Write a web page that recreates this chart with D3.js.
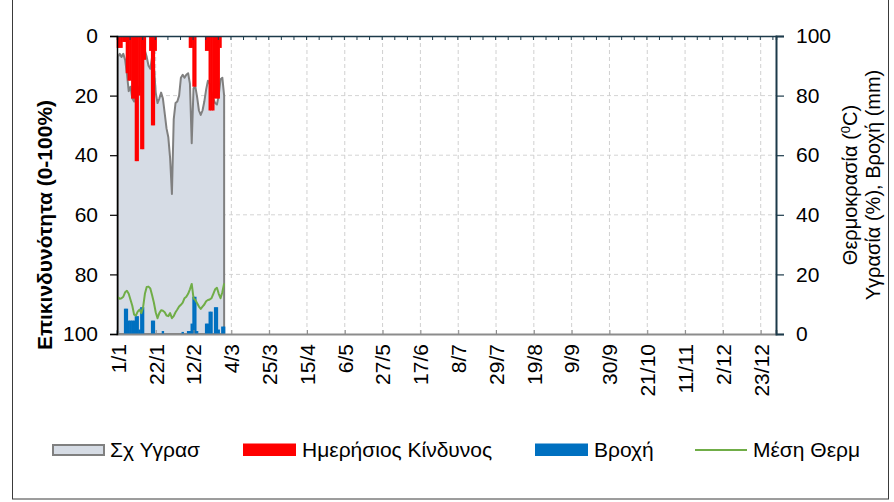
<!DOCTYPE html>
<html>
<head>
<meta charset="utf-8">
<script src="https://cdn.jsdelivr.net/npm/d3@7/dist/d3.min.js"></script>
<style>
  html, body { margin: 0; padding: 0; background: #fff; }
  svg { display: block; font-family: "Liberation Sans", Arial, sans-serif; }
</style>
</head>
<body>
<svg id="chart" width="894" height="502"></svg>
<script>
// ---------- DATA ----------
const tickLabels = ["1/1","22/1","12/2","4/3","25/3","15/4","6/5","27/5","17/6","8/7","29/7","19/8","9/9","30/9","21/10","11/11","2/12","23/12"];
const tickDays   = [0,21,42,63,84,105,126,147,168,189,210,231,252,273,294,315,336,357];
const yTicks = [0,20,40,60,80,100];

// Σχετική υγρασία (%), right axis
const humidity = [93,94,93,94,92,87.5,81.5,83,79,78, 84,83,81,85,92.5,95,93,90,89,93,
                  90,81,77.5,79,81,79,74,69,66,59, 47,72,77.5,78,80,86,87,86,87,87.5,
                  84,64,82.5,83,79.5,75,73.5,75,78,82, 85,84,81,79,77.5,77,80,85.5,86,80];
// Ημερήσιος Κίνδυνος (0-100%), left reversed axis
const risk = [4,4,4,2,2,12.5,15,15,21,21, 42,42,20,38,38,8,0,0,5,30,
              30,5,0,0,0,0,0,0,0,0, 0,0,0,0,0,0,0,0,0,0,
              4,4,17,17,0,0,0,0,0,5, 5,25,25,25,21,21,21,4,0,0];
// Βροχή (mm), right axis
const rain = [1,0,0,0,8.5,8.5,4.5,4.5,4.5,4.5, 6,6,1.5,9,9,0,0,0,0,4.5,
              4.5,0,0,0,0,1,0,0,0,0, 0,0,0,0,0,0,0.7,0,0,1,
              1,3.5,12.5,12.5,1,0,0,0,0,3.5, 3.5,7.5,7.5,0,9,9,1.5,0,2.5,2.5];
// Μέση Θερμοκρασία (°C), right axis
const temp = [12.4,11.8,12,12.5,14,14.5,13.5,11.5,9.5,6.5, 6.2,7.5,8.2,7,9,13.5,15.8,15.9,15.3,13,
              10.5,7.3,5.3,7,8,7.8,7.3,6.2,6,7, 5.3,6,7.3,8.2,9.2,9.8,10.5,12,12.5,13.5,
              15,16.8,12,11.4,10.3,9.2,8.4,9.2,9.9,11, 11.4,11.6,12,13.5,15,15.5,13.5,12,14,17];

const legendItems = ["Σχ Υγρασ","Ημερήσιος Κίνδυνος","Βροχή","Μέση Θερμ"];

// ---------- LAYOUT ----------
const L = 117, R = 776, T = 36, B = 334;
const svg = d3.select("#chart");

const x = d3.scaleLinear().domain([-0.5, 365.5]).range([L, R]);
const yL = d3.scaleLinear().domain([0, 100]).range([T, B]);   // reversed (0 top)
const yR = d3.scaleLinear().domain([0, 100]).range([B, T]);

const days = d3.range(humidity.length);
const bw = x(0.5) - x(-0.5);

// outer border
svg.append("rect").attr("x", 12.5).attr("y", -2).attr("width", 876).attr("height", 501)
  .attr("fill", "none").attr("stroke", "#3a3a3a").attr("stroke-width", 1);

// gridlines
const grid = svg.append("g");
grid.selectAll("line.h").data([20,40,60,80]).join("line")
  .attr("x1", L).attr("x2", R).attr("y1", d => yL(d)).attr("y2", d => yL(d))
  .attr("stroke", "#d4d4d4").attr("stroke-width", 1).attr("stroke-dasharray", "4,3");
grid.selectAll("line.v").data(tickDays.slice(1)).join("line")
  .attr("x1", d => x(d)).attr("x2", d => x(d)).attr("y1", T).attr("y2", B)
  .attr("stroke", "#d0d0d0").attr("stroke-width", 1).attr("stroke-dasharray", "4,3");

// humidity area
const area = d3.area().x(d => x(d)).y0(yR(0)).y1(d => yR(humidity[d]));
svg.append("path").datum(days).attr("d", area)
  .attr("fill", "#d6dce5").attr("stroke", "#808080").attr("stroke-width", 2)
  .attr("stroke-linejoin", "round");

// risk bars (from top)
svg.append("g").selectAll("rect").data(days.filter(d => risk[d] > 0)).join("rect")
  .attr("x", d => x(d - 0.5) - 0.3).attr("width", bw + 0.6)
  .attr("y", yL(0)).attr("height", d => yL(risk[d]) - yL(0))
  .attr("fill", "#ff0000");

// rain bars (from bottom)
svg.append("g").selectAll("rect").data(days.filter(d => rain[d] > 0)).join("rect")
  .attr("x", d => x(d - 0.5) - 0.3).attr("width", bw + 0.6)
  .attr("y", d => yR(rain[d])).attr("height", d => yR(0) - yR(rain[d]))
  .attr("fill", "#0070c0");

// temperature line
svg.append("path").datum(days)
  .attr("d", d3.line().x(d => x(d)).y(d => yR(temp[d])))
  .attr("fill", "none").attr("stroke", "#70ad47").attr("stroke-width", 2)
  .attr("stroke-linejoin", "round");

// ---------- AXES ----------
const fs = "21px";
// top axis (ticks every week, inside)
const gTop = svg.append("g").attr("transform", `translate(0,${T})`)
  .call(d3.axisTop(x).tickValues(d3.range(7, 366, 7).map(d => d - 0.5)).tickSize(-4).tickFormat(""));
gTop.select(".domain").attr("stroke", "#1c3a4a").attr("stroke-width", 1.5);
gTop.selectAll(".tick line").attr("stroke", "#1c3a4a");

// bottom axis
const gB = svg.append("g").attr("transform", `translate(0,${B})`)
  .call(d3.axisBottom(x).tickValues(tickDays).tickSize(-4).tickFormat((d, i) => tickLabels[i]));
gB.select(".domain").attr("stroke", "#8c8c8c").attr("stroke-width", 2);
gB.selectAll(".tick line").attr("stroke", "#8c8c8c");
gB.selectAll(".tick text")
  .attr("transform", "rotate(-90)")
  .attr("x", -10).attr("y", 0).attr("dy", "0.35em")
  .attr("text-anchor", "end")
  .attr("font-size", fs).attr("font-family", "Liberation Sans, Arial, sans-serif").attr("fill", "#000");

// left axis
const gL = svg.append("g").attr("transform", `translate(${L},0)`)
  .call(d3.axisLeft(yL).tickValues(yTicks).tickSize(7).tickPadding(12));
gL.select(".domain").attr("stroke", "#000").attr("stroke-width", 1.5);
gL.selectAll(".tick line").attr("stroke", "#000").attr("stroke-width", 1.2);
gL.selectAll(".tick text").attr("font-size", fs).attr("font-family", "Liberation Sans, Arial, sans-serif").attr("fill", "#000");

// right axis
const gR = svg.append("g").attr("transform", `translate(${R},0)`)
  .call(d3.axisRight(yR).tickValues(yTicks).tickSize(8).tickPadding(12));
gR.select(".domain").attr("stroke", "#1c3a4a").attr("stroke-width", 2);
gR.selectAll(".tick line").attr("stroke", "#1c3a4a").attr("stroke-width", 1.2);
gR.selectAll(".tick text").attr("font-size", fs).attr("font-family", "Liberation Sans, Arial, sans-serif").attr("fill", "#000");

// axis titles
svg.append("text")
  .attr("transform", "translate(52,225) rotate(-90)")
  .attr("text-anchor", "middle").attr("font-size", "21px").attr("font-weight", "bold")
  .text("Επικινδυνότητα (0-100%)");

const rt = svg.append("text")
  .attr("transform", "translate(857,185) rotate(-90)")
  .attr("text-anchor", "middle").attr("font-size", "20px");
rt.append("tspan").text("Θερμοκρασία (");
rt.append("tspan").attr("font-size", "13px").attr("baseline-shift", "super").text("0");
rt.append("tspan").text("C)");
svg.append("text")
  .attr("transform", "translate(880,185) rotate(-90)")
  .attr("text-anchor", "middle").attr("font-size", "20px")
  .text("Υγρασία (%), Βροχή (mm)");

// ---------- LEGEND ----------
const lg = svg.append("g").attr("font-size", "21px");
const lx = [53, 243, 535, 695];
const tx = [110, 302, 594, 753];
lg.append("rect").attr("x", lx[0]).attr("y", 445).attr("width", 51).attr("height", 10)
  .attr("fill", "#d6dce5").attr("stroke", "#808080").attr("stroke-width", 2);
lg.append("rect").attr("x", lx[1]).attr("y", 443.5).attr("width", 53).attr("height", 12.5).attr("fill", "#ff0000");
lg.append("rect").attr("x", lx[2]).attr("y", 443.5).attr("width", 53).attr("height", 12.5).attr("fill", "#0070c0");
lg.append("line").attr("x1", lx[3]).attr("x2", lx[3] + 52).attr("y1", 450).attr("y2", 450)
  .attr("stroke", "#70ad47").attr("stroke-width", 2);
lg.selectAll("text").data(legendItems).join("text")
  .attr("x", (d, i) => tx[i]).attr("y", 457).text(d => d).attr("fill", "#000");
</script>
</body>
</html>
